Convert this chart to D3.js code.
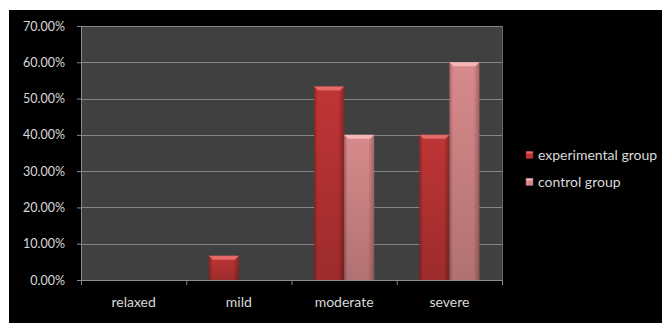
<!DOCTYPE html>
<html>
<head>
<meta charset="utf-8">
<script src="https://cdn.jsdelivr.net/npm/d3@7"></script>
<style>
  html, body { margin: 0; padding: 0; background: #ffffff; }
  svg { display: block; }
  text { font-family: Lato, "Open Sans", sans-serif; }
</style>
</head>
<body>
<svg id="chart" width="662" height="323"></svg>
<script>
// Share of participants in each stress level
const categories = ["relaxed", "mild", "moderate", "severe"];
const seriesNames = ["experimental group", "control group"];
const experimental = [0, 6.67, 53.33, 40];
const control = [0, 0, 40, 60];
const yTicks = [0, 10, 20, 30, 40, 50, 60, 70];

const seriesValues = [experimental, control];
const colors = [
  { base: "#bf3535", light: "#e46a68", dark: "#8f2526" },
  { base: "#d88a8b", light: "#f2b7b6", dark: "#a86566" }
];

const svg = d3.select("#chart");
const W = 662, H = 323;

// black chart background inside a thin white margin
svg.append("rect").attr("x", 9).attr("y", 10).attr("width", W - 9).attr("height", H - 10).attr("fill", "#000");

const plot = { left: 81, right: 502, top: 26, bottom: 280 };

const x = d3.scaleBand().domain(categories).range([plot.left, plot.right]).paddingInner(0).paddingOuter(0);
const xs = d3.scaleBand().domain(d3.range(seriesNames.length)).range([0, x.bandwidth()]).paddingInner(0).paddingOuter(0.75);
const y = d3.scaleLinear().domain([0, 70]).range([plot.bottom, plot.top]);

// plot area
svg.append("rect")
  .attr("x", plot.left).attr("y", plot.top)
  .attr("width", plot.right - plot.left).attr("height", plot.bottom - plot.top)
  .attr("fill", "#404040");

// gridlines
svg.append("g").selectAll("line").data(yTicks.filter(d => d > 0)).join("line")
  .attr("x1", plot.left).attr("x2", plot.right)
  .attr("y1", d => Math.round(y(d)) + 0.5).attr("y2", d => Math.round(y(d)) + 0.5)
  .attr("stroke", "#858585").attr("stroke-width", 1.2);

// right edge of plot area
svg.append("line")
  .attr("x1", plot.right + 0.5).attr("x2", plot.right + 0.5)
  .attr("y1", plot.top).attr("y2", plot.bottom)
  .attr("stroke", "#6a6a6a");

// gradients for the bevelled bars
const defs = svg.append("defs");
colors.forEach((c, i) => {
  const g = defs.append("linearGradient").attr("id", "bar" + i).attr("x1", 0).attr("x2", 1).attr("y1", 0).attr("y2", 0);
  g.append("stop").attr("offset", "0%").attr("stop-color", c.dark);
  g.append("stop").attr("offset", "12%").attr("stop-color", c.base);
  g.append("stop").attr("offset", "80%").attr("stop-color", c.base);
  g.append("stop").attr("offset", "100%").attr("stop-color", c.dark);
  const v = defs.append("linearGradient").attr("id", "shade" + i).attr("x1", 0).attr("x2", 0).attr("y1", 0).attr("y2", 1);
  v.append("stop").attr("offset", "0%").attr("stop-color", "#000").attr("stop-opacity", 0);
  v.append("stop").attr("offset", "100%").attr("stop-color", "#000").attr("stop-opacity", 0.18);
});

// bars
const rows = [];
categories.forEach((cat, ci) => {
  seriesValues.forEach((vals, si) => {
    if (vals[ci] > 0) rows.push({ cat, si, v: vals[ci] });
  });
});

const bars = svg.append("g").selectAll("g").data(rows).join("g");
bars.append("rect")
  .attr("x", d => x(d.cat) + xs(d.si))
  .attr("y", d => y(d.v))
  .attr("width", xs.bandwidth())
  .attr("height", d => y(0) - y(d.v))
  .attr("fill", d => `url(#bar${d.si})`);
bars.append("rect")
  .attr("x", d => x(d.cat) + xs(d.si))
  .attr("y", d => y(d.v))
  .attr("width", xs.bandwidth())
  .attr("height", d => y(0) - y(d.v))
  .attr("fill", d => `url(#shade${d.si})`);
// top bevel
bars.append("path")
  .attr("d", d => {
    const x0 = x(d.cat) + xs(d.si), x1 = x0 + xs.bandwidth(), t = y(d.v), b = 4;
    return `M${x0},${t}L${x1},${t}L${x1 - b},${t + b}L${x0 + b},${t + b}Z`;
  })
  .attr("fill", d => colors[d.si].light);

// y axis
const yAxis = svg.append("g").attr("transform", `translate(${plot.left},0)`)
  .call(d3.axisLeft(y).tickValues(yTicks).tickSize(4).tickPadding(12).tickFormat(d => d.toFixed(2) + "%"));
yAxis.select(".domain").attr("stroke", "#8c8c8c");
yAxis.selectAll(".tick line").attr("stroke", "#8c8c8c");
yAxis.selectAll(".tick text").attr("fill", "#d9d9d9").attr("font-size", 12.5).attr("font-family", "Lato, sans-serif");

// x axis
const xAxis = svg.append("g").attr("transform", `translate(0,${plot.bottom})`);
xAxis.append("line").attr("x1", plot.left).attr("x2", plot.right).attr("y1", 0.5).attr("y2", 0.5).attr("stroke", "#8c8c8c");
const bounds = categories.map(c => x(c)).concat([plot.right]);
xAxis.selectAll("line.tk").data(bounds).join("line").attr("class", "tk")
  .attr("x1", d => d + 0.5).attr("x2", d => d + 0.5).attr("y1", 0).attr("y2", 5)
  .attr("stroke", "#8c8c8c");
xAxis.selectAll("text").data(categories).join("text")
  .attr("x", d => x(d) + x.bandwidth() / 2)
  .attr("y", 27)
  .attr("text-anchor", "middle")
  .attr("fill", "#d9d9d9")
  .attr("font-size", 14)
  .text(d => d);

// legend
const legend = svg.append("g").attr("transform", "translate(526,155)");
const li = legend.selectAll("g").data(seriesNames).join("g")
  .attr("transform", (d, i) => `translate(0,${i * 27})`);
li.append("rect").attr("x", 0).attr("y", -3.5).attr("width", 7).attr("height", 7)
  .attr("fill", (d, i) => colors[i].base).attr("stroke", (d, i) => colors[i].dark).attr("stroke-width", 0.5);
li.append("rect").attr("x", 0.5).attr("y", -3.5).attr("width", 6).attr("height", 2)
  .attr("fill", (d, i) => colors[i].light);
li.append("text").attr("x", 12).attr("y", 0).attr("dy", "0.35em")
  .attr("fill", "#d9d9d9").attr("font-size", 14).text(d => d);
</script>
</body>
</html>
